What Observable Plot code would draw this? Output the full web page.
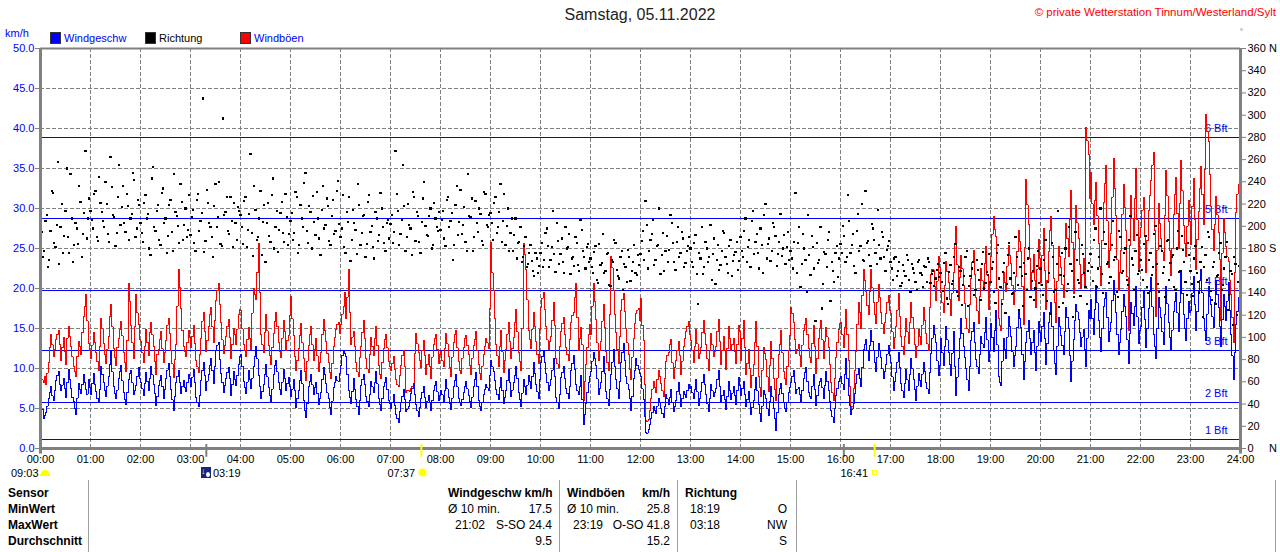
<!DOCTYPE html>
<html><head><meta charset="utf-8">
<script src="https://cdn.jsdelivr.net/npm/d3@7"></script>
<script src="https://cdn.jsdelivr.net/npm/@observablehq/plot@0.6"></script>
<style>
html,body{margin:0;padding:0;background:#fff;}
#wrap{position:relative;width:1280px;height:552px;overflow:hidden;font-family:"Liberation Sans",Arial,sans-serif;}
#wrap svg{position:absolute;left:0;top:0;}
.t{position:absolute;white-space:pre;line-height:16px;font-size:12px;color:#000;}
.b{font-weight:bold;}
</style></head><body><div id="wrap"></div>
<script>
// ---- data: samples every 3 minutes (A) and the in-between samples (B), km/h and degrees ----
const speedKmh = [
 5.6,3.8,4.5,6.2,7.8,6.0,8.5,9.6,7.2,8.8,6.4,9.9,7.5,5.9,4.2,8.1,6.9,9.2,7.4,8.6,
 6.8,9.4,7.1,5.8,10.2,8.3,6.5,9.0,12.1,7.7,6.2,8.8,10.4,7.0,5.5,8.6,9.8,6.7,7.9,10.1,
 8.3,6.6,9.5,7.2,10.3,8.0,5.4,7.9,9.1,6.3,8.7,10.6,7.4,4.8,8.2,9.7,6.9,8.5,7.1,9.3,
 7.8,9.9,6.4,5.2,8.5,10.8,7.3,9.2,11.2,8.1,12.3,13.2,9.4,7.0,8.8,10.1,6.6,9.6,7.9,10.5,
 11.8,8.4,6.9,9.7,7.5,10.2,12.8,9.1,6.2,8.0,10.5,7.6,5.8,9.3,11.0,8.2,6.7,9.9,7.2,8.9,
 6.5,8.6,5.1,7.3,9.8,6.0,3.9,7.7,9.2,6.8,8.3,5.5,7.0,10.1,8.1,6.2,4.3,7.6,9.0,8.4,
 10.4,12.2,11.5,7.2,5.6,8.8,6.1,4.3,7.9,9.3,6.5,5.2,8.4,7.0,9.6,6.3,4.8,7.7,8.9,6.0,
 5.0,6.7,4.2,3.3,5.8,7.4,4.6,5.2,6.9,8.1,5.5,4.0,6.3,7.8,5.1,6.6,4.8,7.2,8.4,6.0,
 7.3,5.9,8.6,6.4,4.9,7.8,9.2,6.2,5.4,7.0,8.4,6.6,5.1,7.7,9.5,6.0,4.7,6.8,8.0,7.2,
 11.0,9.6,7.4,6.1,8.9,5.6,7.2,9.9,6.5,8.2,10.3,7.0,5.3,8.6,6.8,9.1,7.5,10.7,8.0,6.2,
 10.8,12.1,9.4,7.2,8.6,11.3,6.4,5.0,8.9,10.2,7.5,6.3,9.7,11.6,8.0,6.7,9.1,3.0,5.6,8.3,
 9.6,12.0,10.4,6.8,8.2,11.5,7.1,5.4,9.3,12.4,8.6,6.3,10.8,13.1,9.0,7.4,4.8,8.7,11.2,9.9,
 9.0,6.1,2.0,2.4,3.8,5.2,4.4,6.3,5.0,3.9,6.8,5.5,7.4,4.6,6.0,8.2,5.3,7.1,6.4,8.0,
 7.8,6.2,8.6,5.4,7.1,9.2,6.7,4.6,8.0,6.5,7.5,9.7,5.9,7.3,4.9,8.4,6.1,7.7,5.5,8.9,
 6.6,8.4,5.2,7.1,4.3,6.0,8.9,5.5,3.4,7.3,6.2,4.1,7.8,5.0,2.3,6.8,8.1,5.7,4.6,7.0,
 8.2,9.8,6.9,7.6,5.8,8.7,10.1,7.0,6.2,9.3,5.4,7.9,8.8,6.3,9.6,7.2,4.7,3.2,6.6,8.4,
 9.0,7.4,11.2,6.6,4.2,5.6,8.1,10.0,7.7,12.4,13.6,11.0,14.8,12.2,9.6,13.1,11.4,8.7,10.5,12.9,
 10.7,7.3,9.5,12.0,8.1,6.4,9.9,7.2,11.3,8.6,6.0,9.4,7.7,10.8,8.3,6.9,11.9,15.4,13.2,9.1,
 13.8,10.4,15.2,12.0,9.1,14.6,6.6,11.3,16.2,12.7,10.0,7.2,13.5,15.8,11.1,9.4,14.0,12.6,16.4,10.9,
 15.6,12.1,17.2,9.0,7.9,13.8,11.2,16.5,14.0,10.3,12.8,17.4,15.1,8.6,13.2,16.0,11.7,14.7,9.8,15.9,
 13.4,17.0,10.5,15.8,18.2,12.3,9.2,16.4,14.1,11.7,17.6,15.0,8.4,13.6,18.0,16.1,12.8,14.9,10.2,17.3,
 18.6,14.2,20.4,16.0,12.1,17.8,19.5,13.4,15.7,21.0,17.0,11.8,14.9,19.2,16.5,10.6,18.3,15.4,20.2,13.1,
 15.2,19.8,12.6,17.5,21.4,14.3,11.2,18.9,16.4,13.0,20.3,15.8,12.2,17.1,19.5,14.6,22.0,16.7,13.5,18.4,
 17.2,21.5,14.8,19.6,22.4,16.3,13.5,20.2,18.0,15.1,21.0,17.6,12.8,19.3,16.0,20.8,14.2,8.6,15.5,18.9
];
const speedKmhB = [
 4.9,4.1,5.3,7.0,6.6,7.3,9.1,8.0,7.9,7.5,8.2,8.6,6.4,5.0,6.3,7.4,8.0,8.3,6.8,7.6,
 8.1,8.0,6.3,7.4,9.3,7.2,7.8,10.5,9.6,6.9,7.3,9.6,8.5,6.1,7.0,9.4,8.2,7.3,9.0,8.8,
 7.5,8.1,8.4,8.8,9.2,6.9,6.5,8.5,7.8,7.4,9.8,9.0,6.1,6.5,9.0,8.3,7.7,7.6,8.2,8.7,
 8.9,8.2,5.8,6.6,9.7,9.1,8.4,10.4,9.8,10.2,12.9,11.1,8.3,7.9,9.5,8.7,8.0,8.6,9.1,11.5,
 10.3,7.6,8.3,8.6,8.8,11.5,11.2,7.8,7.1,9.2,9.0,6.6,7.4,10.4,9.6,7.4,8.3,8.7,8.1,7.7,
 7.4,7.2,6.2,8.5,8.1,4.8,5.6,8.4,8.0,7.6,6.9,6.3,8.6,9.2,7.0,5.1,5.9,8.3,8.5,9.4,
 11.6,11.9,9.3,6.4,7.1,7.4,5.3,6.0,8.6,8.0,5.9,6.8,7.7,8.3,8.1,5.5,6.2,8.3,7.4,5.6,
 5.8,5.4,3.8,4.6,6.5,6.1,4.9,6.0,7.5,6.8,4.7,5.1,7.0,6.4,5.9,5.7,6.0,7.9,7.1,6.6,
 6.7,7.2,7.5,5.6,6.3,8.5,7.7,5.8,6.1,7.8,7.5,5.9,6.4,8.6,7.8,5.3,5.7,7.4,7.6,9.1,
 10.2,8.5,6.8,7.6,7.3,6.4,8.5,8.2,7.3,9.1,8.8,6.1,6.9,7.7,7.9,8.4,9.0,9.4,7.1,8.6,
 11.5,10.7,8.3,7.9,9.8,9.0,5.7,6.8,9.5,8.8,6.9,7.8,10.6,9.9,7.2,7.8,6.1,4.2,7.0,9.0,
 10.9,11.2,8.7,7.5,9.6,9.4,6.2,7.4,10.8,10.3,7.5,8.4,12.0,11.0,8.1,6.2,6.5,9.8,10.4,9.4,
 7.5,4.0,1.9,3.0,4.5,4.8,5.3,5.7,4.4,5.2,6.2,6.4,5.8,5.3,7.1,6.8,6.2,6.8,7.2,7.5,
 7.0,7.4,7.1,6.3,8.2,8.0,5.6,6.3,7.2,7.0,8.6,7.8,6.6,6.1,6.5,7.2,6.9,6.6,7.2,7.9,
 7.5,6.8,6.1,5.7,5.1,7.4,7.2,4.4,5.3,6.8,5.0,5.9,6.5,3.8,4.5,7.5,6.9,5.0,5.8,7.6,
 9.0,8.3,7.4,6.7,7.2,9.5,8.4,6.5,7.8,7.4,6.6,8.4,7.6,7.9,8.4,5.9,4.0,5.0,7.5,8.7,
 8.1,9.3,8.8,5.4,4.9,6.9,9.2,8.8,10.1,13.0,12.3,12.9,13.4,10.8,11.4,12.2,10.0,9.6,11.8,11.6,
 9.0,8.4,10.8,10.1,7.2,8.1,8.6,9.2,10.0,7.4,7.8,8.5,9.3,9.6,7.5,9.5,13.8,14.2,11.0,10.4,
 12.0,12.8,13.6,10.5,11.9,10.2,8.9,13.8,14.4,11.4,8.6,10.3,14.6,13.2,10.2,11.8,13.1,14.5,13.6,12.3,
 13.9,14.8,13.0,8.3,10.9,12.4,13.9,15.2,12.1,11.6,15.1,16.3,11.8,10.9,14.6,13.8,13.2,12.0,12.8,14.5,
 15.2,13.7,13.1,17.0,15.3,10.6,12.8,15.3,12.9,14.6,16.4,11.6,10.9,16.0,17.1,14.5,13.9,12.4,13.8,16.2,
 16.3,17.4,18.2,13.9,15.0,18.7,16.4,14.6,18.5,19.2,14.3,13.3,17.1,17.8,13.6,14.4,16.9,17.8,16.5,14.8,
 17.6,16.1,15.0,19.6,17.7,12.8,15.0,17.6,14.6,16.8,18.1,13.9,14.8,18.4,17.0,18.3,19.4,15.0,16.2,17.0,
 19.4,18.0,17.1,21.0,19.5,14.7,16.8,19.0,16.5,18.2,19.3,15.2,16.1,17.7,18.4,17.3,11.6,12.0,17.1,16.4
];
const gustKmh = [
 9.5,8.2,8.0,10.8,14.2,11.5,13.6,14.8,11.0,13.9,10.5,15.2,12.8,10.2,9.0,13.4,11.8,16.5,19.3,13.1,
 11.2,14.5,12.0,9.8,16.2,13.1,10.6,14.0,18.0,12.5,10.4,13.8,15.9,12.0,9.6,20.6,15.4,11.3,19.2,15.5,
 13.4,10.8,14.9,11.6,15.8,12.7,9.2,12.4,14.6,10.7,13.5,16.3,12.2,8.9,13.0,22.4,17.5,12.8,11.5,14.7,
 12.6,15.4,11.0,9.5,13.8,17.0,12.1,15.2,17.6,13.3,18.5,20.6,15.8,11.9,14.0,16.1,11.2,15.0,13.0,16.8,
 17.2,13.0,11.5,15.1,12.4,20.0,18.6,25.6,14.2,12.0,16.8,12.9,10.5,14.4,17.0,13.2,11.4,16.0,12.3,14.1,
 19.0,14.1,9.8,12.5,15.6,11.2,8.5,12.9,15.2,11.0,13.7,9.6,12.0,16.1,13.4,10.8,8.8,12.7,14.9,15.8,
 15.5,17.8,16.2,22.4,13.0,14.6,10.8,9.0,12.7,16.0,11.3,9.5,13.9,11.6,15.2,10.4,8.8,12.5,14.3,10.9,
 9.8,11.5,8.6,7.8,10.4,12.2,7.0,7.2,7.5,8.1,14.4,12.0,10.1,13.5,9.2,11.8,8.7,13.0,14.2,10.6,
 12.1,10.2,14.4,11.5,9.0,13.3,14.8,10.9,9.4,12.6,14.1,11.8,9.3,12.9,14.6,10.5,8.6,11.7,13.8,12.5,
 25.8,19.8,13.0,10.2,14.7,9.5,12.4,15.8,11.2,13.9,17.4,12.0,9.8,25.6,22.4,14.8,12.5,17.0,13.4,10.6,
 17.6,19.5,15.2,12.4,14.0,18.2,11.3,10.1,14.6,16.4,12.6,11.0,15.8,17.0,20.6,12.2,15.1,6.0,10.5,14.3,
 14.2,20.6,16.1,11.0,13.4,18.0,12.1,9.7,24.0,19.8,14.5,10.6,17.2,19.4,15.0,11.8,8.6,13.8,16.9,17.5,
 18.8,13.5,3.5,3.6,6.2,8.4,7.0,9.8,8.1,6.5,10.9,12.0,13.6,8.8,11.0,13.4,9.2,12.8,14.6,15.9,
 13.5,10.8,14.9,11.2,12.6,16.0,13.0,9.8,14.4,11.5,12.7,16.1,10.5,14.0,9.9,15.2,12.3,13.7,10.6,15.4,
 11.0,16.0,9.2,12.4,7.6,10.5,15.9,9.0,6.5,12.6,11.1,7.1,13.4,8.8,6.0,11.8,14.7,9.6,8.0,12.2,
 17.6,15.8,11.9,13.0,10.2,14.8,16.2,12.5,10.8,15.4,9.4,13.7,16.0,11.3,15.1,12.6,8.2,6.0,11.4,14.9,
 15.8,12.6,17.4,11.0,4.8,7.5,12.1,18.3,15.0,22.4,19.6,16.8,22.4,18.2,15.6,20.5,17.0,14.4,16.9,19.1,
 16.9,12.5,15.2,19.4,14.0,11.8,16.3,13.1,18.2,15.0,11.4,14.9,13.0,17.6,14.4,12.3,21.8,22.2,18.5,24.0,
 19.5,17.0,23.4,20.8,16.6,22.0,27.8,18.5,24.1,20.4,16.2,14.5,21.3,24.8,18.9,15.6,22.5,19.8,25.2,17.4,
 24.0,29.0,26.5,16.2,14.8,22.0,19.6,25.4,23.1,18.0,21.5,27.2,24.6,15.5,33.6,28.0,19.9,24.3,17.6,26.1,
 20.8,27.5,17.4,24.6,29.0,21.2,15.8,25.3,22.6,18.9,28.1,24.0,32.2,19.4,30.4,26.2,20.0,23.7,40.1,36.8,
 34.5,28.0,33.2,25.6,20.4,30.8,35.4,22.6,26.9,36.2,29.1,19.8,24.7,33.0,27.3,14.8,31.6,26.0,35.0,22.1,
 27.6,31.4,22.0,29.8,33.5,37.0,16.5,30.6,26.2,23.5,34.8,28.4,21.6,29.2,33.9,25.0,36.0,27.9,24.0,31.0,
 25.5,33.8,22.4,29.6,35.2,28.0,41.8,38.4,30.2,24.8,31.5,27.0,16.0,28.8,25.2,23.4,19.2,13.2,29.5,33.0
];
const gustKmhB = [
 8.6,9.0,9.4,12.6,13.0,12.4,14.2,13.0,12.6,12.1,13.8,14.0,11.5,9.6,11.5,12.7,14.5,17.8,16.0,12.2,
 12.9,13.2,10.9,12.8,15.0,11.8,12.4,16.5,15.2,11.4,12.6,14.9,14.1,10.8,13.5,18.4,13.2,15.2,17.0,13.6,
 12.0,12.8,13.3,14.5,14.2,10.9,11.7,13.6,12.5,12.0,15.4,14.4,10.6,11.1,17.8,20.1,14.8,12.1,13.2,13.9,
 14.0,13.1,10.2,11.8,15.9,14.6,13.5,16.8,15.2,16.0,19.7,18.0,13.6,12.9,15.2,13.9,13.0,14.3,14.9,17.4,
 15.0,12.2,13.6,13.8,16.9,19.2,22.0,19.5,13.0,14.5,14.7,11.6,12.6,15.9,15.3,12.1,13.8,14.6,13.5,16.6,
 16.2,11.5,11.0,14.1,13.2,9.6,10.9,14.3,13.0,12.4,11.6,10.8,14.2,14.8,11.9,9.5,10.6,13.9,15.5,14.4,
 16.8,19.5,18.9,17.0,13.9,12.7,9.6,11.4,14.5,13.8,10.0,11.8,12.8,13.7,12.9,9.2,10.7,13.6,12.6,10.2,
 10.6,9.9,8.0,9.1,11.6,10.2,7.2,7.1,7.8,11.9,13.1,11.0,12.2,11.6,10.5,10.3,11.4,13.8,12.4,11.7,
 11.0,12.5,13.1,10.1,11.4,14.2,12.6,9.8,11.3,13.7,12.9,10.4,11.3,13.6,12.2,9.4,10.3,12.8,13.2,17.5,
 22.0,16.2,11.6,12.8,12.1,11.0,14.3,13.4,12.5,15.8,14.6,10.9,15.0,24.2,18.6,13.6,14.9,15.2,11.8,14.9,
 18.8,17.4,13.6,13.4,16.0,15.4,10.6,12.8,15.6,14.2,11.8,13.6,16.6,18.9,16.4,13.8,13.0,8.4,12.6,15.5,
 17.8,18.4,13.2,12.3,15.9,15.1,10.8,16.7,22.6,16.8,12.4,14.0,18.6,17.1,13.2,9.9,11.4,15.6,17.3,16.0,
 15.4,8.0,3.4,4.8,7.4,7.6,8.6,9.0,7.2,8.8,11.6,13.0,10.7,10.1,12.2,11.6,10.9,13.7,15.2,14.3,
 12.2,12.8,13.1,11.9,14.5,14.4,11.2,12.3,13.0,12.1,14.6,13.4,12.2,12.3,12.5,13.8,13.0,12.1,13.0,14.6,
 13.7,12.6,10.6,10.0,9.1,13.2,12.8,7.6,9.8,11.9,9.0,10.4,11.3,7.4,8.8,13.0,12.0,8.7,10.2,14.1,
 16.9,13.6,12.4,11.6,12.9,15.5,14.3,11.4,13.1,12.7,11.2,15.0,13.6,13.4,14.0,10.5,7.0,8.8,13.2,15.6,
 14.2,15.1,14.3,7.8,5.2,9.8,15.5,17.0,19.1,21.0,17.9,19.6,20.1,16.8,18.3,18.9,15.6,15.8,18.2,17.3,
 14.6,13.9,17.3,16.5,12.8,14.0,14.6,15.8,16.4,13.0,12.8,14.0,15.4,16.0,13.1,17.6,22.4,20.2,20.9,22.6,
 18.2,20.4,22.1,18.6,19.4,25.5,23.0,21.4,22.5,18.1,15.0,18.0,23.2,21.7,17.2,19.0,21.0,23.1,21.8,20.6,
 26.8,27.4,20.0,15.4,18.6,20.7,22.8,24.1,20.4,19.6,24.6,25.9,20.3,25.1,30.5,23.8,22.0,21.0,22.4,23.7,
 24.1,22.3,21.0,27.2,25.4,18.2,20.9,24.0,20.5,23.7,26.3,28.6,25.8,24.9,28.2,23.0,21.8,20.4,38.5,31.2,
 30.6,31.0,29.1,22.8,26.0,33.1,28.5,24.8,31.4,32.5,23.6,22.0,29.3,30.1,21.5,25.4,28.8,31.2,28.6,26.4,
 29.8,26.5,26.0,31.6,35.4,27.3,24.8,28.1,24.6,29.1,31.6,24.8,25.0,31.8,29.4,30.6,32.2,25.6,27.8,28.4,
 30.2,28.6,26.1,32.5,31.8,34.9,39.6,34.2,27.4,28.0,29.2,23.6,24.4,27.0,24.0,21.0,16.4,22.0,31.8,30.4
];
const directionDeg = [
 188,172,205,163,196,230,181,258,199,176,214,190,247,168,203,184,222,193,268,207,
 214,198,232,187,221,205,240,193,262,210,182,226,201,236,195,218,207,248,190,224,
 203,186,228,211,174,253,196,219,183,234,207,191,224,178,213,200,238,188,216,197,
 192,215,178,229,205,315,187,221,199,172,238,208,184,297,213,196,226,181,203,217,
 210,184,226,197,265,173,215,190,232,204,168,221,186,243,199,177,212,194,229,183,
 205,188,231,176,219,199,248,185,213,227,192,207,174,236,201,218,183,224,196,241,
 190,228,176,204,169,215,197,238,183,209,172,222,195,181,213,187,230,199,178,206,
 202,185,268,214,193,255,178,220,198,231,187,209,176,225,200,191,216,183,207,196,
 197,214,182,226,205,170,219,192,233,201,186,247,208,178,223,195,211,183,229,199,
 212,188,226,199,238,205,183,216,194,178,207,185,199,172,190,166,183,160,176,158,
 176,163,194,182,170,214,159,187,175,168,199,181,157,172,190,165,206,178,162,184,
 171,158,182,149,165,193,160,176,146,168,185,155,172,143,163,179,151,168,158,174,
 175,196,223,162,188,206,170,183,157,194,178,168,210,185,161,199,176,189,167,182,
 180,163,192,130,171,157,186,168,201,175,148,183,165,196,172,158,188,169,177,161,
 190,172,207,181,163,214,186,176,198,158,220,184,169,203,191,175,211,180,166,195,
 178,162,230,185,145,193,170,210,156,181,115,167,199,148,175,188,133,160,176,154,
 184,200,168,228,176,193,158,211,182,170,232,187,164,198,176,215,171,190,160,182,
 168,152,172,160,146,165,155,170,141,162,150,168,158,145,163,171,149,160,153,166,
 158,142,176,130,165,151,184,137,160,147,172,128,155,168,143,161,134,177,149,156,
 150,168,131,183,145,159,122,174,153,140,190,147,163,128,157,171,136,160,144,178,
 162,138,188,150,121,172,143,214,156,131,180,148,166,118,195,152,137,175,145,160,
 175,151,198,162,216,140,184,168,154,205,172,136,190,160,180,147,209,165,178,157,
 170,152,191,140,176,163,200,148,182,158,136,188,167,174,143,196,160,179,150,185,
 160,137,182,150,168,118,174,195,142,163,130,156,185,147,172,125,160,111,166,150
];
const directionDegB = [
 195,178,210,170,232,185,201,166,220,191,252,176,207,183,198,236,172,212,189,225,
 206,229,190,244,213,199,220,186,235,208,194,255,217,203,229,188,211,242,198,219,
 194,221,207,180,243,199,214,188,230,203,176,219,195,247,209,185,222,201,190,228,
 208,185,224,196,212,177,233,203,190,218,199,240,182,210,226,193,205,221,188,214,
 199,223,181,211,194,236,188,207,174,219,203,191,228,180,214,197,222,186,208,193,
 212,194,226,183,207,239,196,218,180,204,231,189,215,198,225,187,209,193,232,202,
 198,181,213,226,188,203,175,219,194,210,184,228,200,171,207,192,216,185,203,189,
 210,195,229,183,206,218,190,201,174,226,213,186,204,240,192,209,180,221,199,213,
 206,189,224,199,212,183,236,204,193,217,178,209,225,190,203,216,187,231,201,210,
 203,221,194,213,186,229,200,178,207,192,171,186,168,182,163,176,169,155,171,164,
 185,170,198,163,181,175,203,166,189,158,180,193,171,164,185,160,197,172,181,168,
 163,177,152,184,167,158,175,147,170,188,161,153,178,166,150,172,160,183,156,165,
 187,170,201,178,193,165,182,216,174,160,191,179,203,168,186,172,195,163,178,190,
 168,185,157,176,199,163,180,172,152,189,170,161,178,194,166,182,155,174,186,169,
 178,196,168,188,205,175,193,162,183,210,171,189,178,199,164,186,173,192,181,170,
 171,186,158,199,166,180,141,174,191,162,185,170,126,177,163,195,168,150,182,171,
 176,191,172,205,183,164,196,178,220,169,185,174,202,188,166,183,195,172,179,187,
 162,171,155,168,149,160,174,152,166,158,143,170,156,164,150,168,157,146,161,154,
 150,167,135,159,148,172,141,163,129,155,178,146,162,138,170,152,166,144,159,175,
 162,141,176,153,130,167,148,185,139,158,172,125,155,167,143,180,151,134,164,149,
 147,170,133,158,185,141,166,127,176,155,142,199,160,136,170,149,183,158,130,167,
 163,188,145,172,157,195,166,149,183,170,141,196,158,176,152,188,171,143,192,160,
 161,184,145,170,156,193,166,141,178,163,187,152,172,145,180,159,191,168,138,174,
 148,171,158,140,181,163,152,190,134,168,155,176,143,162,186,138,157,172,120,164
];
const hourLabels = ["00:00","01:00","02:00","03:00","04:00","05:00","06:00","07:00","08:00","09:00","10:00","11:00","12:00","13:00","14:00","15:00","16:00","17:00","18:00","19:00","20:00","21:00","22:00","23:00","24:00"];
const kmhTicks = [0,5,10,15,20,25,30,35,40,45,50];
const degTicks = [0,20,40,60,80,100,120,140,160,180,200,220,240,260,280,300,320,340,360];
const bftKmh = [1.1, 5.8, 12.2, 19.8, 28.8, 38.9];
const bftLabels = ["1 Bft","2 Bft","3 Bft","4 Bft","5 Bft","6 Bft"];
const grayMarkTimes = [3 + 19/60, 16 + 4/60];
const yellowMarkTimes = [7 + 37/60, 16 + 41/60];

// ---- build tables ----
const stepH = 3/60;
function merge(a, b, key){
  const out=[];
  a.forEach((v,i)=>{ out.push({t:i*stepH, [key]:v}); out.push({t:i*stepH+stepH/2, [key]:b[i]}); });
  return out;
}
const speed = merge(speedKmh, speedKmhB, "v");
const gust = merge(gustKmh, gustKmhB, "v");
const dir = merge(directionDeg, directionDegB, "deg");
const bft = bftKmh.map((k,i)=>({k, label:bftLabels[i]}));
const hours = hourLabels.map((s,i)=>i);
const degToKmh = d => d*50/360;
const dash = "4,2";

const chart = Plot.plot({
  width:1280, height:552,
  marginLeft:40, marginRight:40, marginTop:48, marginBottom:104,
  x:{domain:[0,24]},
  y:{domain:[0,50]},
  style:{fontFamily:"'Liberation Sans', Arial, sans-serif", fontSize:"11px", background:"transparent", overflow:"visible"},
  marks:[
    Plot.ruleY(kmhTicks.slice(1,-1), {stroke:"#808080", strokeDasharray:dash, shapeRendering:"crispEdges"}),
    Plot.ruleX(hours.slice(1,-1), {stroke:"#808080", strokeDasharray:dash, shapeRendering:"crispEdges"}),
    Plot.ruleY(bft, {y:"k", stroke:"#0000ff", shapeRendering:"crispEdges"}),
    Plot.text(bft, {y:"k", text:"label", frameAnchor:"right", textAnchor:"end", dx:-13, dy:-9, fill:"#0000ff", fontSize:11}),
    Plot.line(gust, {x:"t", y:"v", stroke:"#ff0000", strokeWidth:1, curve:"step-after", shapeRendering:"crispEdges"}),
    Plot.line(speed, {x:"t", y:"v", stroke:"#0000ff", strokeWidth:1, curve:"step-after", shapeRendering:"crispEdges"}),
    Plot.dot(dir, {x:"t", y:d=>degToKmh(d.deg), symbol:"square", r:1.2, fill:"#000", stroke:null, shapeRendering:"crispEdges"}),
    Plot.ruleY([50], {stroke:"#808080", strokeWidth:2}),
    Plot.ruleY([0], {stroke:"#808080", strokeWidth:3}),
    Plot.ruleX([0,24], {y1:50, y2:-0.7, stroke:"#808080", strokeWidth:3}),
    Plot.ruleX(grayMarkTimes, {y1:0.5, y2:-1.1, stroke:"#808080", strokeWidth:2}),
    Plot.ruleX(yellowMarkTimes, {y1:0.5, y2:-1.1, stroke:"#ffff00", strokeWidth:2}),
    Plot.axisY({anchor:"left", ticks:kmhTicks, tickFormat:d=>d.toFixed(1), tickSize:5, tickPadding:1, stroke:"#808080", fill:"#0000ff", label:null, fontSize:11}),
    Plot.axisY({anchor:"right", ticks:degTicks.map(degToKmh), tickFormat:v=>{const d=Math.round(v*7.2); return d===360?"360 N":d===180?"180 S":d===0?"0\u00a0\u00a0\u00a0\u00a0\u00a0N":String(d);}, tickSize:5, tickPadding:2, stroke:"#808080", fill:"#000", label:null, fontSize:11}),
    Plot.axisX({ticks:hours, tickFormat:i=>hourLabels[i], tickSize:0, tickPadding:7, fill:"#000", label:null, fontSize:11})
  ]
});
const wrap = document.getElementById("wrap");
wrap.appendChild(chart);

// ---- text overlays ----
function txt(s, x, yc, o={}){
  const d=document.createElement("div"); d.className="t"+(o.b?" b":""); d.textContent=s;
  if(o.right) d.style.right=(1280-x)+"px"; else d.style.left=x+"px";
  d.style.top=(yc-8)+"px";
  if(o.color) d.style.color=o.color;
  if(o.size) d.style.fontSize=o.size+"px";
  wrap.appendChild(d); return d;
}
function box(x,y,w,h,css){const d=document.createElement("div");d.style.cssText=`position:absolute;left:${x}px;top:${y}px;width:${w}px;height:${h}px;`+css;wrap.appendChild(d);return d;}

txt("Samstag, 05.11.2022", 640, 15, {size:16, color:"#222"}).style.transform="translateX(-50%)";
txt("\u00a9 private Wetterstation Tinnum/Westerland/Sylt", 1276, 12, {right:true, color:"#ff0000", size:11.5});
txt("\u25e6", 1240, 30, {size:8});
txt("km/h", 5, 33, {color:"#0000ff", size:11});
// legend
box(50,32,9,10,"background:#0000ff;border:1px solid #333;");
txt("Windgeschw", 64, 38, {color:"#0000ff", size:11});
box(145,32,9,10,"background:#000;border:1px solid #333;");
txt("Richtung", 159, 38, {size:11});
box(240,32,9,10,"background:#ff0000;border:1px solid #333;");
txt("Windböen", 254, 38, {color:"#0000ff", size:11});

// sun/moon row
txt("09:03", 11, 473, {size:11});
box(41,470,8,4,"background:#ffff00;border-radius:4px 4px 0 0;");
box(40,474,10,2,"background:#ffff00;");
box(201,467,10,11,"background:#1a237e;");
txt("\u2193", 201, 471, {size:9, color:"#ffff00"}).style.fontWeight="bold";
box(206,472,4,5,"background:#fff;border-radius:50%;");
txt("03:19", 213, 473, {size:11});
txt("07:37", 415, 473, {size:11, right:true});
box(419,469,7,7,"background:#ffff00;border-radius:50%;box-shadow:0 0 2px 1px #ffff80;");
txt("16:41", 868, 473, {size:11, right:true});
box(872,470,3,3,"border:1px solid #ffff00;");

// table
[88,559,677,796,1275].forEach(x=>box(x,480,1,72,"background:#a0a0a0;"));
const rows=[493,509,525,541];
["Sensor","MinWert","MaxWert","Durchschnitt"].forEach((s,i)=>txt(s,8,rows[i],{b:true}));
txt("Windgeschw km/h",448,rows[0],{b:true});
txt("\u00d8 10 min.",448,rows[1]); txt("17.5",552,rows[1],{right:true});
txt("21:02",455,rows[2]); txt("S-SO 24.4",552,rows[2],{right:true});
txt("9.5",552,rows[3],{right:true});
txt("Windböen",567,rows[0],{b:true}); txt("km/h",670,rows[0],{b:true,right:true});
txt("\u00d8 10 min.",567,rows[1]); txt("25.8",670,rows[1],{right:true});
txt("23:19",573,rows[2]); txt("O-SO 41.8",670,rows[2],{right:true});
txt("15.2",670,rows[3],{right:true});
txt("Richtung",685,rows[0],{b:true});
txt("18:19",690,rows[1]); txt("O",787,rows[1],{right:true});
txt("03:18",690,rows[2]); txt("NW",787,rows[2],{right:true});
txt("S",787,rows[3],{right:true});
</script></body></html>
